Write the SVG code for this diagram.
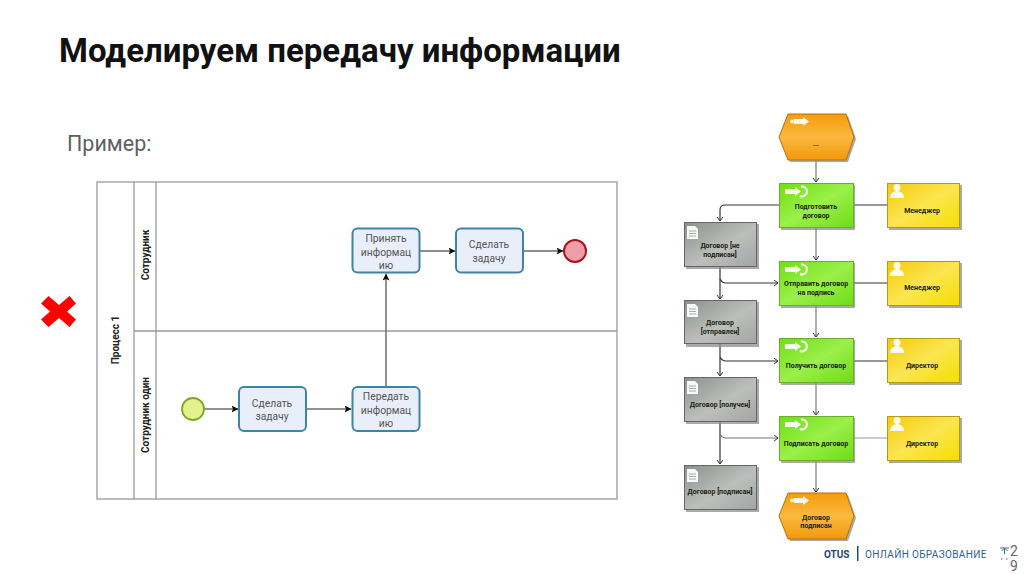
<svg xmlns="http://www.w3.org/2000/svg" width="1024" height="574" viewBox="0 0 1024 574">
<style>
text{font-family:"Roboto","Liberation Sans",sans-serif}
.bp{fill:#555;font-size:10.300px;text-anchor:middle}
.task{fill:#e9eefb;stroke:#3f84a8;stroke-width:2}
.lane{fill:none;stroke:#9a9a9a;stroke-width:1.3}
.lt{fill:#222;font-size:10px;font-weight:bold;text-anchor:middle}
.fl{fill:none;stroke:#666;stroke-width:1.4;marker-end:url(#ah)}
.fd{fill:none;stroke:#222;stroke-width:1.1;marker-end:url(#ah)}
.ec{fill:none;stroke:#777;stroke-width:1.2;marker-end:url(#oa)}
.ek{fill:none;stroke:#333;stroke-width:1.2;marker-end:url(#oa)}
.et{fill:#1c2410;font-size:7px;font-weight:bold;text-anchor:middle}
.sh{fill:#8d8d8d;opacity:.75}
.g{fill:url(#gg);stroke:#6cae2a;stroke-width:1}
.y{fill:url(#gy);stroke:#b79a10;stroke-width:1}
.d{fill:url(#gd);stroke:#666;stroke-width:1}
.o{fill:url(#go);stroke:#b96f08;stroke-width:1}
.ic{fill:#fff;opacity:.92}
</style>
<defs>
<marker id="ah" markerWidth="8" markerHeight="8" refX="6.500" refY="3.500" orient="auto" markerUnits="userSpaceOnUse"><path d="M0 0L7 3.500L0 7L1.500 3.500Z" fill="#111"/></marker>
<marker id="oa" markerWidth="8" markerHeight="8" refX="5" refY="3" orient="auto" markerUnits="userSpaceOnUse"><path d="M1 0L5 3L1 6" fill="none" stroke="#333" stroke-width="1"/></marker>
<linearGradient id="gg" x1="0" y1="0" x2="1" y2="1"><stop offset="0" stop-color="#6fe012"/><stop offset=".5" stop-color="#9bf04a"/><stop offset="1" stop-color="#6fdc18"/></linearGradient>
<linearGradient id="gy" x1="0" y1="0" x2="1" y2="1"><stop offset="0" stop-color="#f5c90e"/><stop offset=".5" stop-color="#fbe650"/><stop offset="1" stop-color="#f6de00"/></linearGradient>
<linearGradient id="gd" x1="0" y1="0" x2="1" y2="1"><stop offset="0" stop-color="#8a918d"/><stop offset=".55" stop-color="#bdbfbd"/><stop offset="1" stop-color="#a3a5a4"/></linearGradient>
<linearGradient id="go" x1="0" y1="0" x2="0" y2="1"><stop offset="0" stop-color="#f59c0c"/><stop offset=".5" stop-color="#fbb93f"/><stop offset="1" stop-color="#f2980d"/></linearGradient>
<g id="ip"><path class="ic" d="M1 3h10v-2l6 4.500l-6 4.500v-2h-10z"/><path d="M17 0.500a5 5 0 1 1 -1 9.500" fill="none" stroke="#fff" stroke-width="2"/></g>
<g id="ie"><path class="ic" d="M5 3h9v-2l6 4.500l-6 4.500v-2h-9z"/><circle class="ic" cx="3" cy="5.500" r="2"/></g>
<g id="ir"><circle class="ic" cx="8" cy="3.500" r="3.500"/><path class="ic" d="M1 14c0-5 4-7 7-7s7 2 7 7z"/></g>
<g id="id"><path class="ic" d="M0 0h8l3 3v10h-11z"/><path d="M2 5h7M2 7.500h7M2 10h7" stroke="#999" stroke-width=".8"/></g>
</defs>
<rect width="1024" height="574" fill="#fff"/>
<text x="59" y="62" font-size="33" font-weight="bold" fill="#111" id="title">Моделируем передачу информации</text>
<text x="67" y="151" font-size="21.500" fill="#5f5f5f">Пример:</text>
<path id="x-mark" d="M41 303.500L48.500 296L59 305L69.500 296L76 303.500L67 311.500L76 319.500L69.500 327L59 318L48.500 327L41 319.500L50 311.500Z" fill="#f00"/>

<g id="lanes">
<rect class="lane" x="97" y="182" width="520" height="317"/>
<path class="lane" d="M134 182V499M156 182V499M134 331H617"/>
<text class="lt" transform="translate(119 340) rotate(-90)" font-size="10.500">Процесс 1</text>
<text class="lt" transform="translate(149 255) rotate(-90)">Сотрудник</text>
<text class="lt" transform="translate(149 415) rotate(-90)">Сотрудник один</text>
</g>
<g id="bpmn-connectors">
<path class="fd" d="M204 409H238"/>
<path class="fd" d="M306 409H351"/>
<path class="fl" d="M386 387V274"/>
<path class="fl" d="M420 251H455"/>
<path class="fl" d="M523 251H563"/>
</g>
<g id="start"><circle cx="193" cy="409" r="11" fill="#e3f28c" stroke="#7fa52d" stroke-width="1.800"/></g>
<g id="task1"><rect class="task" x="239" y="387" width="67" height="44" rx="5"/><text class="bp" x="272" y="407">Сделать</text><text class="bp" x="272" y="420">задачу</text></g>
<g id="task2"><rect class="task" x="352.500" y="387" width="67" height="44" rx="5"/><text class="bp" x="386" y="400">Передать</text><text class="bp" x="386" y="413.500">информац</text><text class="bp" x="386" y="427">ию</text></g>
<g id="task3"><rect class="task" x="352.500" y="228.500" width="67" height="44" rx="5"/><text class="bp" x="386" y="242">Принять</text><text class="bp" x="386" y="255.500">информац</text><text class="bp" x="386" y="269">ию</text></g>
<g id="task4"><rect class="task" x="456" y="228.500" width="67" height="44" rx="5"/><text class="bp" x="489" y="248">Сделать</text><text class="bp" x="489" y="262">задачу</text></g>
<g id="end"><circle cx="575" cy="251" r="11" fill="#ee9ea6" stroke="#a8121f" stroke-width="2"/></g>

<g id="epc-connectors">
<path class="ec" d="M816 160V182"/>
<path class="ec" d="M816 228V260"/>
<path class="ec" d="M816 306V337"/>
<path class="ec" d="M816 383V415"/>
<path class="ec" d="M816 461V492"/>
<path class="ek" d="M779 205H725Q720 205 720 210V221"/>
<path d="M854 205H887M854 283H887M854 361H887" fill="none" stroke="#333" stroke-width="1.100"/>
<path d="M854 438H887" fill="none" stroke="#999" stroke-width="1.100"/>
<path class="ek" d="M720 267V299"/>
<path class="ek" d="M720 279Q722 283 726 283H778"/>
<path class="ek" d="M720 344V376"/>
<path class="ek" d="M720 357Q722 361 726 361H778"/>
<path class="ek" d="M720 422V464"/>
<path class="ec" d="M720 434Q722 438 726 438H778"/>
</g>
<g id="ev-start"><path class="sh" d="M790 116H848L856 139L848 162H790L781 139Z"/><path class="o" d="M788 114H846L854 137L846 160H788L779 137Z"/><use href="#ie" x="789" y="116"/><text class="et" x="816" y="146">...</text></g>
<g id="fn1"><rect class="sh" x="781" y="185" width="74" height="45"/><rect class="g" x="779.500" y="183.500" width="74" height="44"/><use href="#ip" x="784" y="186"/><text class="et" x="816" y="209">Подготовить</text><text class="et" x="816" y="218">договор</text></g>
<g id="r1"><rect class="sh" x="889" y="185" width="73" height="45"/><rect class="y" x="887.500" y="183.500" width="72" height="44"/><use href="#ir" x="889" y="184"/><text class="et" x="922" y="213">Менеджер</text></g>
<g id="d1"><rect class="sh" x="686" y="224" width="73" height="45"/><rect class="d" x="684.500" y="222.500" width="72" height="44"/><use href="#id" x="687" y="226"/><text class="et" x="720" y="248">Договор [не</text><text class="et" x="720" y="257">подписан]</text></g>
<g id="fn2"><rect class="sh" x="781" y="263" width="74" height="45"/><rect class="g" x="779.500" y="261.500" width="74" height="44"/><use href="#ip" x="784" y="264"/><text class="et" x="816" y="286">Отправить договор</text><text class="et" x="816" y="295">на подпись</text></g>
<g id="r2"><rect class="sh" x="889" y="263" width="73" height="45"/><rect class="y" x="887.500" y="261.500" width="72" height="44"/><use href="#ir" x="889" y="262"/><text class="et" x="922" y="290">Менеджер</text></g>
<g id="d2"><rect class="sh" x="686" y="302" width="73" height="45"/><rect class="d" x="684.500" y="300.500" width="72" height="43"/><use href="#id" x="687" y="304"/><text class="et" x="720" y="325">Договор</text><text class="et" x="720" y="334">[отправлен]</text></g>
<g id="fn3"><rect class="sh" x="781" y="340" width="74" height="45"/><rect class="g" x="779.500" y="338.500" width="74" height="44"/><use href="#ip" x="784" y="341"/><text class="et" x="816" y="368">Получить договор</text></g>
<g id="r3"><rect class="sh" x="889" y="340" width="73" height="45"/><rect class="y" x="887.500" y="338.500" width="72" height="44"/><use href="#ir" x="889" y="339"/><text class="et" x="922" y="368">Директор</text></g>
<g id="d3"><rect class="sh" x="686" y="379" width="73" height="45"/><rect class="d" x="684.500" y="377.500" width="72" height="44"/><use href="#id" x="687" y="381"/><text class="et" x="720" y="407">Договор [получен]</text></g>
<g id="fn4"><rect class="sh" x="781" y="418" width="74" height="45"/><rect class="g" x="779.500" y="416.500" width="74" height="44"/><use href="#ip" x="784" y="419"/><text class="et" x="816" y="446">Подписать договор</text></g>
<g id="r4"><rect class="sh" x="889" y="418" width="73" height="45"/><rect class="y" x="887.500" y="416.500" width="72" height="44"/><use href="#ir" x="889" y="417"/><text class="et" x="922" y="446">Директор</text></g>
<g id="d4"><rect class="sh" x="686" y="467" width="73" height="45"/><rect class="d" x="684.500" y="465.500" width="72" height="44"/><use href="#id" x="687" y="469"/><text class="et" x="720" y="494">Договор [подписан]</text></g>
<g id="ev-end"><path class="sh" d="M790 495H848L856 518L848 541H790L781 518Z"/><path class="o" d="M788 493H846L854 516L846 539H788L779 516Z"/><use href="#ie" x="789" y="495"/><text class="et" x="816" y="520" font-weight="normal">Договор</text><text class="et" x="816" y="528" font-weight="normal">подписан</text></g>

<g id="footer">
<text x="824" y="558" font-size="10" font-weight="bold" fill="#23487e">OTUS</text>
<rect x="857" y="546" width="1.500" height="15" fill="#23487e"/>
<text x="865" y="558" font-size="10" fill="#2f5f96" letter-spacing=".35">ОНЛАЙН ОБРАЗОВАНИЕ</text>
<path d="M1000 548H1009M1004.500 548V554M1001.500 551L1004.500 548L1007.500 551M1001 559H1002.500M1006 559H1007.500" fill="none" stroke="#3b6ea5" stroke-width="1"/>
<text x="1010" y="556" font-size="14" fill="#666">2</text>
<text x="1010" y="570.500" font-size="14" fill="#666">9</text>
</g>
</svg>
